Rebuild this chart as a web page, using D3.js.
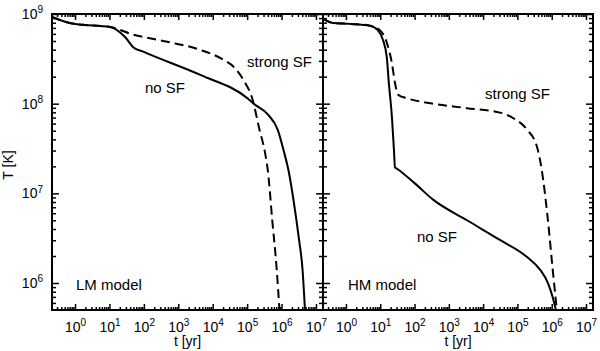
<!DOCTYPE html>
<html>
<head>
<meta charset="utf-8">
<script src="https://cdn.jsdelivr.net/npm/d3@7"></script>
<style>
  body { margin: 0; background: #fff; }
  svg { font-family: "Liberation Sans", Helvetica, Arial, sans-serif; }
</style>
</head>
<body>
<svg id="chart" width="600" height="351"></svg>
<script>
// time in yr, temperature in K
var lmNoSfT = [0.214, 0.363, 0.708, 1.95, 5.37, 10.5, 28.8, 49, 95.5, 4365, 1.02e5, 1.55e5, 3.98e5, 7.76e5, 1.15e6, 1.62e6, 2.29e6, 3.16e6, 4.07e6, 4.79e6];
var lmNoSfK = [9.27e8, 8.57e8, 7.94e8, 7.53e8, 7.35e8, 7.16e8, 5.5e8, 4.27e8, 3.8e8, 2.09e8, 1.15e8, 1.0e8, 7.6e7, 5.1e7, 3.0e7, 1.74e7, 7.8e6, 3.2e6, 1.41e6, 5.0e5];

var lmStrongT = [0.214, 0.363, 0.708, 1.95, 5.37, 10.5, 49, 479, 4365, 2.04e4, 4.07e4, 7.94e4, 1.45e5, 2.19e5, 3.47e5, 3.98e5, 5.37e5, 7.24e5, 8.7e5];
var lmStrongK = [9.27e8, 8.57e8, 7.94e8, 7.53e8, 7.35e8, 7.16e8, 5.89e8, 4.9e8, 3.98e8, 3.09e8, 2.57e8, 1.82e8, 1.1e8, 5.5e7, 2.57e7, 1.82e7, 5.0e6, 1.41e6, 5.0e5];

var hmNoSfT = [0.214, 0.417, 1.32, 5.01, 8.51, 12.0, 15.5, 17.8, 21.9, 25.1, 26.9, 31.6, 100, 347, 3388, 3.09e4, 1.91e5, 4.57e5, 7.76e5, 1.07e6, 1.32e6];
var hmNoSfK = [8.8e8, 7.94e8, 7.76e8, 7.41e8, 6.61e8, 5.13e8, 3.31e8, 1.7e8, 7.08e7, 3.02e7, 1.95e7, 1.87e7, 1.3e7, 8.51e6, 5.01e6, 3.02e6, 1.95e6, 1.41e6, 1.0e6, 6.92e5, 5.0e5];

var hmStrongT = [0.214, 0.417, 1.32, 5.01, 9.77, 15.5, 21.9, 26.9, 33.1, 60.3, 347, 3388, 3.09e4, 7.41e4, 1.91e5, 3.72e5, 5.13e5, 7.76e5, 1.07e6, 1.41e6];
var hmStrongK = [8.8e8, 7.94e8, 7.76e8, 7.41e8, 6.61e8, 4.79e8, 2.82e8, 1.7e8, 1.26e8, 1.15e8, 1.0e8, 8.91e7, 7.94e7, 6.92e7, 5.13e7, 3.31e7, 1.82e7, 5.01e6, 1.41e6, 5.0e5];

var xMajor = [1, 10, 100, 1e3, 1e4, 1e5, 1e6, 1e7];
var yMajor = [1e6, 1e7, 1e8, 1e9];
var xDomain = [0.214, 1.6e7];
var yDomain = [5e5, 1e9];

var svg = d3.select("#chart");

var plotTop = 14, plotBottom = 310;

function minorTicks(domain) {
    var out = [];
    var lo = Math.floor(Math.log10(domain[0])), hi = Math.ceil(Math.log10(domain[1]));
    for (var e = lo; e < hi; e++) {
        for (var k = 2; k <= 9; k++) {
            var v = k * Math.pow(10, e);
            if (v > domain[0] && v < domain[1]) out.push(v);
        }
    }
    return out;
}

function supLabels(sel) {
    sel.selectAll(".tick text").each(function(d) {
        var t = d3.select(this);
        t.text("10");
        t.append("tspan")
            .attr("dy", "-0.55em")
            .attr("font-size", "10px")
            .text(Math.round(Math.log10(d)));
    });
}

function drawPanel(left, right, series, labels, showY, id) {
    var x = d3.scaleLog().domain(xDomain).range([left, right]);
    var y = d3.scaleLog().domain(yDomain).range([plotBottom, plotTop]);

    var g = svg.append("g");

    svg.append("clipPath").attr("id", id)
        .append("rect")
        .attr("x", left).attr("y", plotTop)
        .attr("width", right - left).attr("height", plotBottom - plotTop);

    var line = d3.line()
        .x(function(d) { return x(d[0]); })
        .y(function(d) { return y(d[1]); })
        .curve(d3.curveMonotoneX);

    series.forEach(function(s) {
        var pts = d3.zip(s.t, s.T);
        g.append("path")
            .attr("clip-path", "url(#" + id + ")")
            .attr("d", line(pts))
            .attr("fill", "none")
            .attr("stroke", "#000")
            .attr("stroke-width", 2)
            .attr("stroke-dasharray", s.dash ? "9,5" : null);
    });

    var xMinor = minorTicks(xDomain);
    var yMinor = minorTicks(yDomain);

    // bottom axis
    var bx = g.append("g").attr("transform", "translate(0," + plotBottom + ")")
        .call(d3.axisBottom(x).tickValues(xMajor).tickSizeInner(-6).tickSizeOuter(0).tickPadding(12));
    supLabels(bx);
    g.append("g").attr("transform", "translate(0," + plotBottom + ")")
        .call(d3.axisBottom(x).tickValues(xMinor).tickFormat("").tickSizeInner(-3).tickSizeOuter(0));
    // top axis
    g.append("g").attr("transform", "translate(0," + plotTop + ")")
        .call(d3.axisTop(x).tickValues(xMajor).tickFormat("").tickSizeInner(-6).tickSizeOuter(0));
    g.append("g").attr("transform", "translate(0," + plotTop + ")")
        .call(d3.axisTop(x).tickValues(xMinor).tickFormat("").tickSizeInner(-3).tickSizeOuter(0));
    // left axis
    var ly = g.append("g").attr("transform", "translate(" + left + ",0)")
        .call(d3.axisLeft(y).tickValues(yMajor).tickSizeInner(-7).tickSizeOuter(0).tickPadding(9));
    if (showY) supLabels(ly); else ly.selectAll(".tick text").remove();
    g.append("g").attr("transform", "translate(" + left + ",0)")
        .call(d3.axisLeft(y).tickValues(yMinor).tickFormat("").tickSizeInner(-4).tickSizeOuter(0));
    // right axis
    g.append("g").attr("transform", "translate(" + right + ",0)")
        .call(d3.axisRight(y).tickValues(yMajor).tickFormat("").tickSizeInner(-7).tickSizeOuter(0));
    g.append("g").attr("transform", "translate(" + right + ",0)")
        .call(d3.axisRight(y).tickValues(yMinor).tickFormat("").tickSizeInner(-4).tickSizeOuter(0));

    g.selectAll(".domain").remove();
    g.selectAll(".tick line").attr("stroke-width", 1.5);
    g.selectAll(".tick text").attr("font-size", "14px").attr("fill", "#000")
        .attr("font-family", null);

    g.append("rect")
        .attr("x", left).attr("y", plotTop)
        .attr("width", right - left).attr("height", plotBottom - plotTop)
        .attr("fill", "none").attr("stroke", "#000").attr("stroke-width", 2);

    labels.forEach(function(l) {
        g.append("text")
            .attr("x", l.x).attr("y", l.y)
            .attr("font-size", "15px")
            .text(l.text);
    });

    g.append("text")
        .attr("x", (left + right) / 2).attr("y", 346)
        .attr("text-anchor", "middle")
        .attr("font-size", "14px")
        .text("t [yr]");
}

drawPanel(52, 323, [
    { t: lmNoSfT, T: lmNoSfK, dash: false },
    { t: lmStrongT, T: lmStrongK, dash: true }
], [
    { text: "strong SF", x: 247, y: 67 },
    { text: "no SF", x: 145, y: 93 },
    { text: "LM model", x: 76, y: 290 }
], true, "clipL");

drawPanel(323, 593, [
    { t: hmNoSfT, T: hmNoSfK, dash: false },
    { t: hmStrongT, T: hmStrongK, dash: true }
], [
    { text: "strong SF", x: 485, y: 99 },
    { text: "no SF", x: 417, y: 242 },
    { text: "HM model", x: 348, y: 290 }
], false, "clipR");

svg.append("text")
    .attr("transform", "translate(13,165) rotate(-90)")
    .attr("text-anchor", "middle")
    .attr("font-size", "14px")
    .text("T [K]");
</script>
</body>
</html>
